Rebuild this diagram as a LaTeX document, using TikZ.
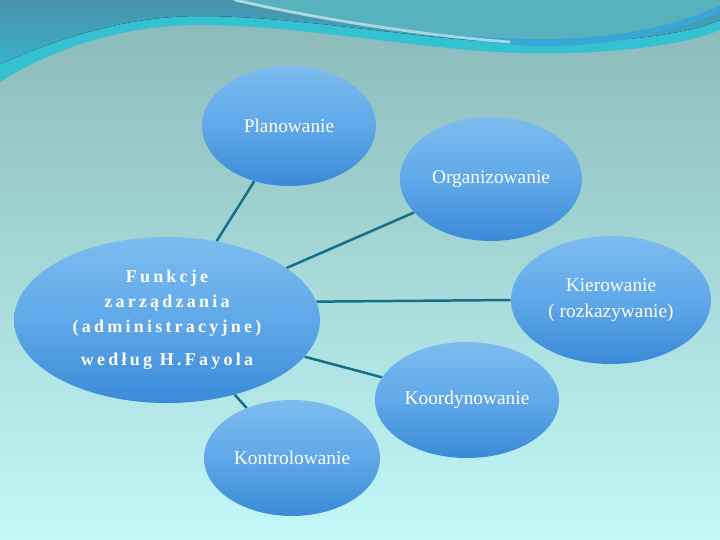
\documentclass[tikz,border=0pt]{standalone}
\usepackage{fontspec}
\setmainfont{Liberation Serif}
\usepackage{tikz}
\usetikzlibrary{shapes.geometric}
\definecolor{bgtop}{RGB}{138,184,184}
\definecolor{bgbot}{RGB}{194,248,248}
\definecolor{wavecyan}{RGB}{52,194,210}
\definecolor{wavedark}{RGB}{72,146,172}
\definecolor{wavelow}{RGB}{58,178,200}
\definecolor{wavelens}{RGB}{88,178,190}
\definecolor{waveblue}{RGB}{58,166,214}
\definecolor{elltop}{RGB}{124,188,240}
\definecolor{ellmid}{RGB}{96,168,232}
\definecolor{ellbot}{RGB}{58,138,216}
\definecolor{linkcol}{RGB}{18,112,138}
\pgfdeclarelayer{bglayer}
\pgfdeclarelayer{edgelayer}
\pgfdeclarelayer{nodelayer}
\pgfsetlayers{bglayer,edgelayer,nodelayer,main}
\tikzstyle{func}=[ellipse,inner sep=0pt,top color=elltop,bottom color=ellbot,middle color=ellmid,text=white,align=center,font=\fontsize{14}{19}\selectfont]
\tikzstyle{core}=[func,font=\fontsize{13}{18}\selectfont\bfseries\addfontfeature{LetterSpace=18}]
\tikzstyle{link}=[-,draw=linkcol,line width=1.8]

\begin{document}
\begin{tikzpicture}[x=1in,y=1in]
	\useasboundingbox (0,0) rectangle (7.2,-5.4);
	\begin{pgfonlayer}{bglayer}
		\fill [top color=bgtop, bottom color=bgbot] (0,0) rectangle (7.2,-5.4);
		% wave at the top
		\fill [wavecyan] (0,0) -- (7.2,0) -- (7.2,-0.3) .. controls (6.8,-0.47) and (6,-0.55) .. (5.2,-0.53) .. controls (4.2,-0.5) and (3,-0.25) .. (2,-0.25) .. controls (1.2,-0.25) and (0.5,-0.5) .. (0,-0.82) -- cycle;
		\fill [top color=wavedark, bottom color=wavelow] (0,0) -- (7.2,0) -- (7.2,-0.2) .. controls (6.8,-0.37) and (6,-0.44) .. (5.2,-0.43) .. controls (4.2,-0.4) and (3,-0.16) .. (2,-0.16) .. controls (1.2,-0.16) and (0.5,-0.42) .. (0,-0.64) -- cycle;
		\fill [waveblue] (3.2,0) .. controls (3.9,-0.25) and (4.8,-0.47) .. (5.5,-0.46) .. controls (6.3,-0.45) and (6.9,-0.26) .. (7.2,-0.12) -- (7.2,0) -- cycle;
		\fill [wavelens] (2.3,0) .. controls (3.3,-0.22) and (4.5,-0.4) .. (5.5,-0.39) .. controls (6.3,-0.38) and (6.9,-0.2) .. (7.2,-0.05) -- (7.2,0) -- cycle;
		\draw [white, opacity=0.55, line width=2] (2.35,0) .. controls (3.2,-0.2) and (4.3,-0.36) .. (5.1,-0.42);
	\end{pgfonlayer}
	\begin{pgfonlayer}{nodelayer}
		\node [style=func, minimum width=1.74in, minimum height=1.2in] (0) at (2.89,-1.26) {Planowanie};
		\node [style=func, minimum width=1.82in, minimum height=1.24in] (1) at (4.91,-1.79) {Organizowanie};
		\node [style=core, minimum width=3.06in, minimum height=1.66in] (2) at (1.67,-3.2) {Funkcje\\zarządzania\\(administracyjne)\\[6pt]według H.Fayola};
		\node [style=func, minimum width=2.0in, minimum height=1.28in] (3) at (6.11,-3.0) {Kierowanie\\( rozkazywanie)};
		\node [style=func, minimum width=1.84in, minimum height=1.16in] (4) at (4.67,-4.0) {Koordynowanie};
		\node [style=func, minimum width=1.76in, minimum height=1.16in] (5) at (2.92,-4.58) {Kontrolowanie};
	\end{pgfonlayer}
	\begin{pgfonlayer}{edgelayer}
		\draw [style=link] (0) to (2);
		\draw [style=link] (1) to (2);
		\draw [style=link] (3.west) to (2.7);
		\draw [style=link] (4) to (2);
		\draw [style=link] (5) to (2);
	\end{pgfonlayer}
\end{tikzpicture}
\end{document}
